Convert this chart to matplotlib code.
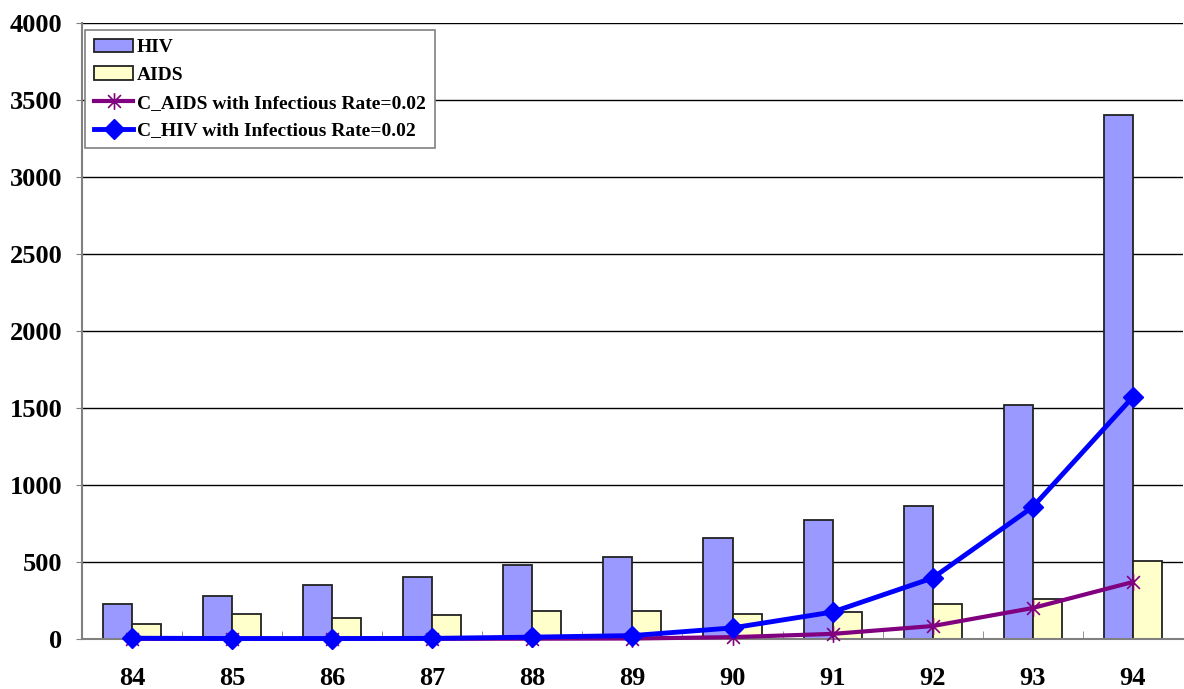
import numpy as np
import matplotlib.pyplot as plt
from matplotlib.path import Path

years = ["84", "85", "86", "87", "88", "89", "90", "91", "92", "93", "94"]
hiv = [227, 279, 350, 402, 480, 532, 655, 772, 863, 1520, 3400]
aids = [100, 162, 136, 156, 182, 180, 162, 175, 227, 260, 506]
c_aids = [1, 1, 1, 1, 2, 3, 12, 33, 84, 201, 370]
c_hiv = [5, 3, 3, 4, 12, 22, 72, 175, 396, 857, 1571]

plt.rcParams['font.family'] = ['Liberation Serif', 'DejaVu Serif']
plt.rcParams['font.weight'] = 'bold'

# excel-style star: an X with a vertical stroke
star = Path([(-1, -1), (1, 1), (-1, 1), (1, -1), (0, -1.3), (0, 1.3)],
            [Path.MOVETO, Path.LINETO, Path.MOVETO, Path.LINETO, Path.MOVETO, Path.LINETO])

fig = plt.figure(figsize=(11.84, 6.89), dpi=100)
ax = fig.add_axes([0.0693, 0.0726, 0.9297, 0.894])

x = np.arange(len(years))
w = 0.29
b1 = ax.bar(x - w / 2, hiv, w, color="#9999FF", edgecolor="#222222", linewidth=1.3, label="HIV", zorder=2)
b2 = ax.bar(x + w / 2, aids, w, color="#FFFFCC", edgecolor="#222222", linewidth=1.3, label="AIDS", zorder=2)
l1, = ax.plot(x, c_aids, color="#800080", linewidth=3, marker=star, markersize=12,
              markeredgewidth=1.2, label="C_AIDS with Infectious Rate=0.02", zorder=3, clip_on=False)
l2, = ax.plot(x, c_hiv, color="#0000FF", linewidth=3.5, marker="D", markersize=10,
              label="C_HIV with Infectious Rate=0.02", zorder=4, clip_on=False)

ax.set_xlim(-0.5, len(years) - 0.5)
ax.set_ylim(0, 4000)
ax.set_yticks(range(0, 4001, 500))
ax.yaxis.grid(True, color="black", linewidth=1)
ax.set_axisbelow(True)

ax.set_xticks(x)
ax.set_xticklabels(years)
ax.set_xticks(np.arange(0.5, len(years) - 1, 1), minor=True)
ax.tick_params(axis="x", which="major", length=0, pad=20, labelsize=19)
ax.tick_params(axis="x", which="minor", direction="in", length=6, color="#808080")
ax.tick_params(axis="y", length=4, color="#808080", pad=10, labelsize=19)

for s in ["top", "right"]:
    ax.spines[s].set_visible(False)
for s in ["left", "bottom"]:
    ax.spines[s].set_color("#808080")
    ax.spines[s].set_linewidth(1.5)
    ax.spines[s].set_zorder(2.5)

leg = ax.legend([b1, b2, l1, l2], [b1.get_label(), b2.get_label(), l1.get_label(), l2.get_label()],
                loc="upper left", bbox_to_anchor=(0.003, 0.989), borderaxespad=0,
                fontsize=14, fancybox=False, framealpha=1, edgecolor="#808080",
                handlelength=2.0, handletextpad=0.2, labelspacing=0.52, borderpad=0.45)
leg.get_frame().set_linewidth(1.2)
leg.set_zorder(6)

fig.savefig("out.png", dpi=100)
